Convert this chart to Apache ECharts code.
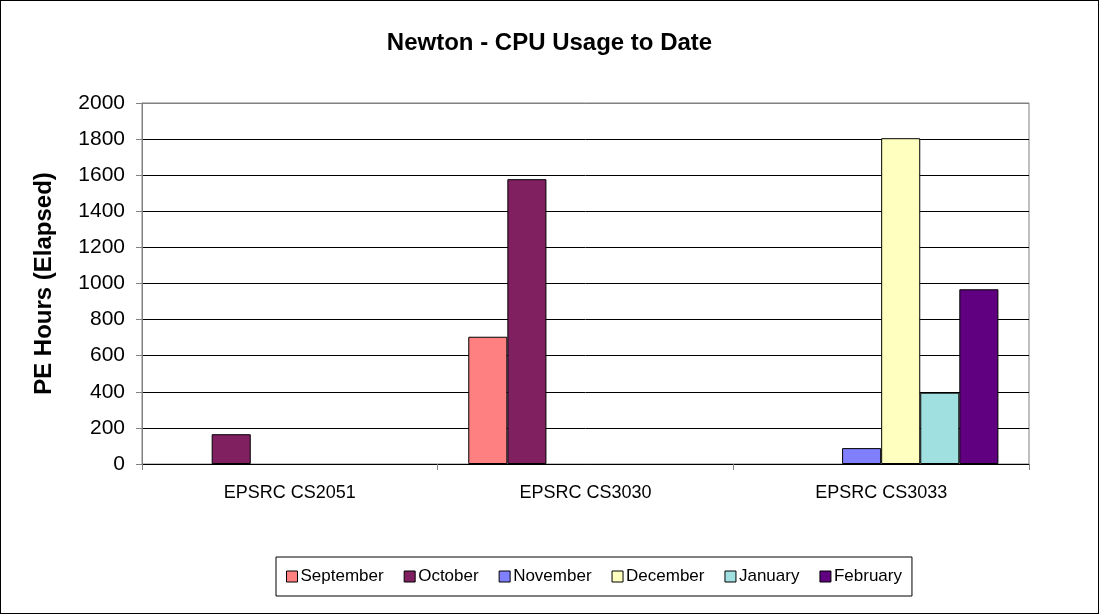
<!DOCTYPE html>
<html>
<head>
<meta charset="utf-8">
<script src="https://cdn.jsdelivr.net/npm/echarts@6/dist/echarts.min.js"></script>
<style>
  html, body { margin: 0; padding: 0; background: #fff; }
  #main { width: 1099px; height: 614px; box-sizing: border-box; border: 1px solid #000; }
</style>
</head>
<body>
<div id="main"></div>
<script>
var categories = ['EPSRC CS2051', 'EPSRC CS3030', 'EPSRC CS3033'];
var months = ['September', 'October', 'November', 'December', 'January', 'February'];
var colors = ['#FF8080', '#802060', '#8080FF', '#FFFFC0', '#A0E0E0', '#600080'];

// '-' = no bar for that project in that month
var september = ['-', 705, '-'];
var october = [165, 1578, '-'];
var november = ['-', '-', 88];
var december = ['-', '-', 1805];
var january = ['-', '-', 395];
var february = ['-', '-', 968];
var values = [september, october, november, december, january, february];

var chart = echarts.init(document.getElementById('main'), null, { renderer: 'canvas' });

var font = 'Liberation Sans, Arial, sans-serif';

var series = months.map(function (m, i) {
  return {
    name: m,
    type: 'bar',
    data: values[i],
    barGap: '0%',
    barCategoryGap: '20.7%',
    itemStyle: { color: colors[i], borderColor: '#000', borderWidth: 1 }
  };
});

var option = {
  backgroundColor: '#fff',
  animation: false,
  textStyle: { fontFamily: font },
  title: {
    text: 'Newton - CPU Usage to Date',
    left: 'center',
    top: 25,
    textStyle: { fontSize: 24, fontWeight: 'bold', color: '#000', fontFamily: font }
  },
  grid: {
    left: 141, right: 69, top: 102, bottom: 149,
    show: true, borderColor: '#808080', borderWidth: 1
  },
  legend: {
    bottom: 17,
    left: 275,
    itemWidth: 11,
    itemHeight: 11,
    itemGap: 20,
    padding: [11, 10, 11, 10],
    borderColor: '#000',
    borderWidth: 1,
    icon: 'rect',
    textStyle: { fontSize: 17, color: '#000', fontFamily: font, padding: [0, 0, 0, -2] },
    data: months,
    itemStyle: { borderColor: '#000', borderWidth: 1 }
  },
  xAxis: {
    type: 'category',
    data: categories,
    axisLine: { lineStyle: { color: '#000', width: 1 } },
    axisTick: { show: true, length: 6, lineStyle: { color: '#808080' } },
    axisLabel: { fontSize: 18, color: '#000', margin: 20, fontFamily: font }
  },
  yAxis: {
    type: 'value',
    min: 0, max: 2000, interval: 200,
    name: 'PE Hours (Elapsed)',
    nameLocation: 'middle',
    nameGap: 86,
    nameRotate: 90,
    nameTextStyle: { fontSize: 24, fontWeight: 'bold', color: '#000', fontFamily: font },
    axisLine: { show: true, lineStyle: { color: '#808080' } },
    axisTick: { show: true, length: 6, lineStyle: { color: '#808080' } },
    axisLabel: {
      fontSize: 21, color: '#000', margin: 17, fontFamily: font,
      formatter: function (v) { return String(v); }
    },
    splitLine: {
      show: true,
      lineStyle: {
        color: ['#000', '#000', '#000', '#000', '#000', '#000', '#000', '#000', '#000', '#000', '#808080'],
        width: 1
      }
    }
  },
  series: series
};

chart.setOption(option);
</script>
</body>
</html>
